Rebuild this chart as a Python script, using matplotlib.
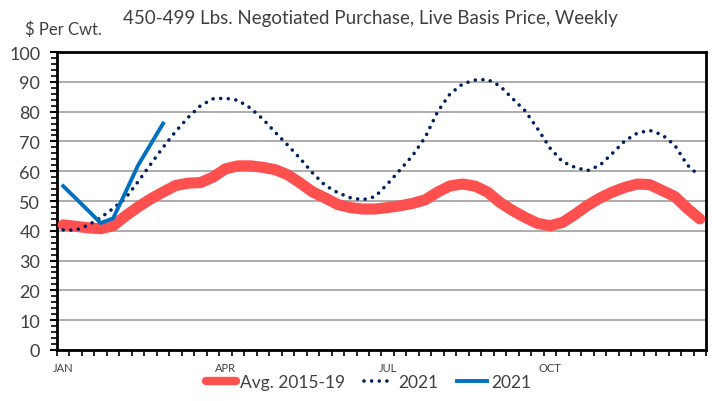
import numpy as np
import matplotlib.pyplot as plt
from matplotlib.ticker import MultipleLocator

plt.rcParams['font.family'] = ['Lato', 'DejaVu Sans']

# weekly values, week 1..52
avg_2015_19 = [42, 41.5, 41, 40.7, 41.7, 45, 48, 50.7, 53, 55.2,
               56, 56.2, 58, 60.8, 61.8, 61.8, 61.3, 60.5, 58.8, 56,
               53, 51, 48.8, 47.8, 47.3, 47.3, 47.8, 48.4, 49.2, 50.4,
               53, 55.1, 55.7, 55, 53, 49.5, 46.8, 44.5, 42.5, 41.7,
               42.8, 45.5, 48.5, 51, 53, 54.6, 55.7, 55.5, 53.5, 51.5,
               47.5, 44]
dotted_2021 = [40.3, 40.2, 41.9, 44.4, 47.5, 51, 56.5, 62.3, 68, 73.3,
               78, 82, 84.3, 84.5, 83.8, 81.2, 77.5, 73, 68.7, 64.2,
               59.3, 55.2, 52.8, 51.1, 50.4, 51.5, 55.8, 60.5, 65.3, 71.4,
               80, 86, 89.3, 90.6, 90.8, 88.6, 84.4, 80.3, 74.3, 67.8,
               63.2, 61.3, 60.2, 62, 66, 70.2, 72.8, 73.7, 72.2, 68.7,
               62.1, 58.3]
actual_2021 = [55, 50.9, 46.8, 42.6, 44.2, 53, 62, 69, 76]

month_labels = ['JAN', 'APR', 'JUL', 'OCT']
month_weeks = [0, 13, 26, 39]

weeks = np.arange(len(avg_2015_19)) + 0.5
weeks_21 = np.arange(len(actual_2021)) + 0.5

fig = plt.figure(figsize=(7.12, 4.02), dpi=100)
ax = fig.add_axes([0.080, 0.127, 0.9116, 0.741])

ax.plot(weeks, avg_2015_19, color='#FF5050', lw=8, solid_capstyle='round',
        solid_joinstyle='round', label='Avg. 2015-19', zorder=3)
ax.plot(weeks, dotted_2021, color='#002060', lw=2.6, linestyle=(0, (0.01, 2.1)),
        dash_capstyle='round', label='2021', zorder=4)
ax.plot(weeks_21, actual_2021, color='#0070C0', lw=2.8, label='2021', zorder=5)

ax.set_xlim(0, 52)
ax.set_ylim(0, 100)
ax.yaxis.set_major_locator(MultipleLocator(10))
ax.yaxis.set_minor_locator(MultipleLocator(2))
ax.grid(axis='y', which='major', color='#A6A6A6', lw=1.3)
ax.set_axisbelow(True)

ax.set_xticks(np.array(month_weeks) + 0.5)
ax.set_xticklabels(month_labels)
ax.set_xticks(np.arange(0, 53), minor=True)
ax.tick_params(axis='x', which='major', length=0, labelsize=8, colors='#404040', pad=9)
ax.tick_params(axis='x', which='minor', length=4, width=1.2, direction='out')
ax.tick_params(axis='y', which='major', length=5, width=1.5, labelsize=13, labelcolor='#404040', pad=7)
ax.tick_params(axis='y', which='minor', length=4, width=1.2)

for s in ax.spines.values():
    s.set_color('black')
    s.set_linewidth(2)

fig.text(0.52, 0.955, '450-499 Lbs. Negotiated Purchase, Live Basis Price, Weekly',
         ha='center', va='center', fontsize=13.5, color='#404040')
fig.text(0.035, 0.925, '$ Per Cwt.', ha='left', va='center', fontsize=12, color='#404040')

leg = fig.legend(loc='center', bbox_to_anchor=(0.518, 0.047), ncol=3, frameon=False,
                 fontsize=12.5, handlelength=1.7, handletextpad=0.25, columnspacing=1.1,
                 labelcolor='#404040')
leg.legend_handles[0].set_linewidth(6)

fig.savefig('out.png', dpi=100)
